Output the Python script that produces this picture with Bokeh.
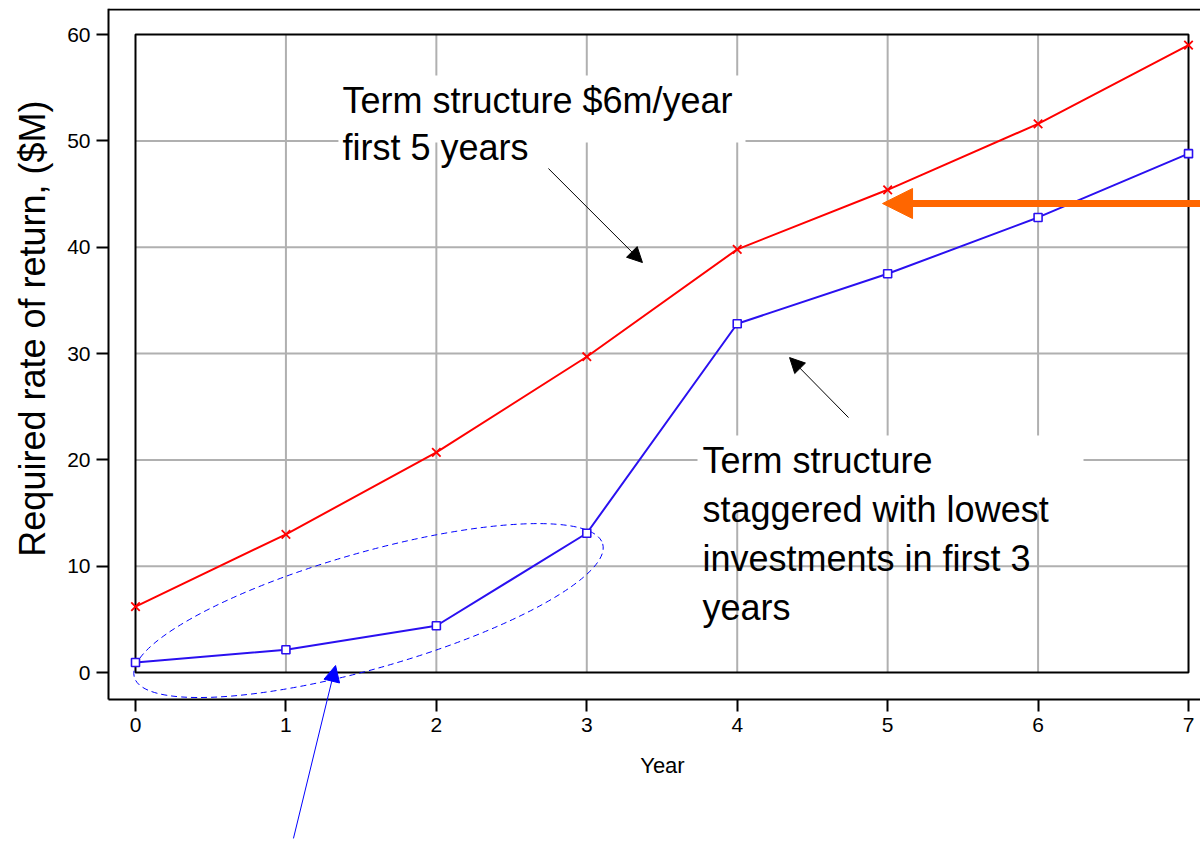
from bokeh.plotting import figure
from bokeh.models import Range1d, Arrow, NormalHead, FixedTicker, Label
from bokeh.embed import file_html
from bokeh.resources import INLINE
from bokeh.core.properties import value
import math

# ---- data ----
years = [0, 1, 2, 3, 4, 5, 6, 7]
uniform_first5 = [6.2, 13.0, 20.7, 29.7, 39.8, 45.4, 51.6, 59.0]
staggered = [0.95, 2.15, 4.4, 13.1, 32.8, 37.5, 42.8, 48.8]
y_ticks = [0, 10, 20, 30, 40, 50, 60]
x_ticks = [0, 1, 2, 3, 4, 5, 6, 7]
grid_x = [1, 2, 3, 4, 5, 6]
grid_y = [10, 20, 30, 40, 50]
y_title = "Required rate of return, ($M)"
x_title = "Year"

FONT = "Liberation Sans"
RED = "#FF0000"
BLUE = "#2A10F0"

X_AXIS = -0.1795        # where the y axis line sits
Y_AXIS = -2.54          # where the x axis line sits
X0, X1 = -0.8974, 7.0797
Y0, Y1 = -15.70, 62.45  # frame covers the whole page

p = figure(width=1200, height=840, output_backend="svg", toolbar_location=None,
           x_range=Range1d(X0, X1), y_range=Range1d(Y0, Y1),
           min_border_left=0, min_border_right=0, min_border_top=8,
           min_border_bottom=1)
p.outline_line_color = None
p.grid.visible = False
p.background_fill_color = "white"
p.border_fill_color = "white"

# inner grid
p.segment(x0=grid_x, y0=0, x1=grid_x, y1=60, line_color="#B0B0B0", line_width=2)
p.segment(x0=0, y0=grid_y, x1=7, y1=grid_y, line_color="#B0B0B0", line_width=2)

# white backgrounds behind annotation text
p.quad(left=1.349, right=4.055, bottom=49.84, top=56.15, fill_color="white", line_color=None)
p.quad(left=3.736, right=6.302, bottom=15.24, top=22.29, fill_color="white", line_color=None)

# inner box
p.quad(left=0, right=7, bottom=0, top=60, fill_color=None, line_color="black", line_width=2)

# outer frame top line
p.segment(x0=[X_AXIS], y0=[Y1 - 0.09], x1=[X1], y1=[Y1 - 0.09], line_color="black", line_width=2)

# dashed ellipse
p.ellipse(x=[1.549], y=[5.83], width=487, height=116, width_units="screen",
          height_units="screen", angle=math.radians(15.9), fill_color=None,
          line_color="#0000FF", line_width=1, line_dash="6 4")

# series
p.line(years, uniform_first5, line_color=RED, line_width=2)
p.scatter(years, uniform_first5, marker="x", size=12, line_color=RED, line_width=1.8)
p.line(years, staggered, line_color=BLUE, line_width=2)
p.scatter(years, staggered, marker="square", size=8, line_color=BLUE,
          fill_color="white", line_width=1.6)

# annotation texts
p.text(x=[1.376], y=[55.77], text=["Term structure $6m/year\nfirst 5 years"],
       text_font=value(FONT), text_font_size="36px", text_baseline="top",
       text_align="left", text_color="black", text_line_height=1.15)
p.text(x=[3.769], y=[21.91],
       text=["Term structure\nstaggered with lowest\ninvestments in first 3\nyears"],
       text_font=value(FONT), text_font_size="36px", text_baseline="top",
       text_align="left", text_color="black", text_line_height=1.2)

# arrows
p.add_layout(Arrow(end=NormalHead(size=15, fill_color="black", line_color="black"),
                   x_start=2.745, y_start=47.40, x_end=3.370, y_end=38.56,
                   line_color="black", line_width=1))
p.add_layout(Arrow(end=NormalHead(size=15, fill_color="black", line_color="black"),
                   x_start=4.740, y_start=23.98, x_end=4.348, y_end=29.62,
                   line_color="black", line_width=1))
p.add_layout(Arrow(end=NormalHead(size=30, fill_color="#FF6600", line_color="#FF6600"),
                   x_start=X1, y_start=44.11, x_end=4.966, y_end=44.11,
                   line_color="#FF6600", line_width=7))
p.add_layout(Arrow(end=NormalHead(size=16, fill_color="#0000FF", line_color="#0000FF"),
                   x_start=1.050, y_start=-15.6, x_end=1.330, y_end=0.66,
                   line_color="#0000FF", line_width=1))

# axes (drawn at fixed positions inside the frame)
for ax in (p.xaxis[0], p.yaxis[0]):
    ax.axis_line_width = 2
    ax.axis_line_color = "black"
    ax.major_tick_line_width = 2
    ax.major_tick_line_color = "black"
    ax.major_tick_out = 12
    ax.major_tick_in = 0
    ax.minor_tick_line_color = None
    ax.major_label_text_font = FONT
    ax.major_label_text_font_size = "21px"
    ax.major_label_text_color = "black"
    ax.major_label_standoff = 6

p.xaxis.ticker = FixedTicker(ticks=x_ticks)
p.xaxis.fixed_location = Y_AXIS
p.xaxis.bounds = (X_AXIS, X1)
p.yaxis.ticker = FixedTicker(ticks=y_ticks)
p.yaxis.fixed_location = X_AXIS
p.yaxis.bounds = (Y_AXIS, Y1)

# axis titles
p.add_layout(Label(x=-0.685, y=32.35, text=y_title, angle=math.pi / 2,
                   text_align="center", text_baseline="middle",
                   text_font=FONT, text_font_size="36px", text_color="black"))
p.add_layout(Label(x=3.503, y=-8.75, text=x_title,
                   text_align="center", text_baseline="middle",
                   text_font=FONT, text_font_size="22px", text_color="black"))

open("out.html", "w").write(file_html(p, INLINE))
